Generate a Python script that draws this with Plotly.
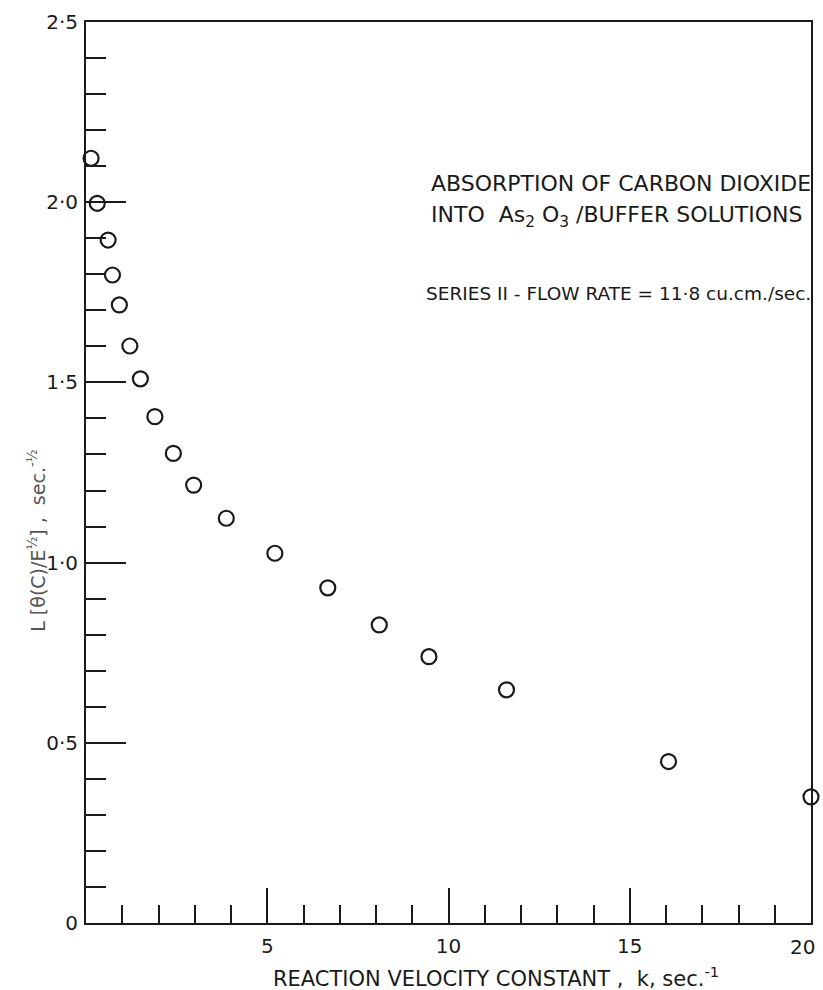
import plotly.graph_objects as go

# Data
k_values = [0.14, 0.31, 0.61, 0.73, 0.92, 1.21, 1.50, 1.90, 2.41, 2.97,
            3.87, 5.21, 6.67, 8.09, 9.46, 11.60, 16.07, 20.0]
l_values = [2.122, 1.997, 1.895, 1.798, 1.715, 1.601, 1.510, 1.405, 1.303, 1.215,
            1.123, 1.026, 0.930, 0.827, 0.739, 0.647, 0.448, 0.350]

x_tickvals = [5, 10, 15]
x_ticktext = ["5", "10", "15"]
x_last_label = "20"
y_tickvals = [0, 0.5, 1.0, 1.5, 2.0, 2.5]
y_ticktext = ["0", "0·5", "1·0", "1·5", "2·0", "2·5"]

title_lines = ["ABSORPTION OF CARBON DIOXIDE",
               "INTO  As<sub>2</sub> O<sub>3</sub> /BUFFER SOLUTIONS"]
series_text = "SERIES II - FLOW RATE = 11·8 cu.cm./sec."
x_title = "REACTION VELOCITY CONSTANT ,  k, sec.<sup>-1</sup>"
y_title = "L [θ(C)/E<sup>½</sup>] ,  sec.<sup>-½</sup>"

FONT = "DejaVu Sans"
INK = "#1a1a1a"

fig = go.Figure()
fig.add_trace(go.Scatter(
    x=k_values, y=l_values, mode="markers",
    marker=dict(symbol="circle-open", size=15, color=INK, line=dict(width=2.2, color=INK)),
    cliponaxis=False, showlegend=False,
))

fig.update_layout(
    width=823, height=990,
    margin=dict(l=86, r=10, t=22, b=67),
    paper_bgcolor="white", plot_bgcolor="white",
    font=dict(family=FONT, color=INK),
    xaxis=dict(
        range=[0, 20], showgrid=False, zeroline=False,
        showline=True, linecolor=INK, linewidth=2, mirror=True,
        tickmode="array", tickvals=x_tickvals, ticktext=x_ticktext,
        ticks="inside", ticklen=35, tickwidth=2, tickcolor=INK,
        minor=dict(dtick=1, tick0=0, ticks="inside", ticklen=18, tickwidth=2, tickcolor=INK),
        tickfont=dict(size=20, family=FONT, color=INK),
        ticklabelstandoff=4,
    ),
    yaxis=dict(
        range=[0, 2.5], showgrid=False, zeroline=False,
        showline=True, linecolor=INK, linewidth=2, mirror=True,
        tickmode="array", tickvals=y_tickvals, ticktext=y_ticktext,
        ticks="inside", ticklen=40, tickwidth=2, tickcolor=INK,
        minor=dict(dtick=0.1, tick0=0, ticks="inside", ticklen=20, tickwidth=2, tickcolor=INK),
        tickfont=dict(size=20, family=FONT, color=INK),
        ticklabelstandoff=2,
    ),
)

annotations = [
    dict(x=9.46, y=2.053, xref="x", yref="y", text=title_lines[0],
         xanchor="left", yanchor="middle", showarrow=False,
         font=dict(size=22, family=FONT, color=INK)),
    dict(x=9.46, y=1.959, xref="x", yref="y", text=title_lines[1],
         xanchor="left", yanchor="middle", showarrow=False,
         font=dict(size=22, family=FONT, color=INK)),
    dict(x=9.32, y=1.748, xref="x", yref="y", text=series_text,
         xanchor="left", yanchor="middle", showarrow=False,
         font=dict(size=18.5, family=FONT, color=INK)),
    dict(x=20, y=0, xref="x", yref="y", text=x_last_label,
         xanchor="right", yanchor="top", yshift=-10, xshift=6, showarrow=False,
         font=dict(size=20, family=FONT, color=INK)),
    dict(x=0.565, y=-0.0595, xref="paper", yref="paper", text=x_title,
         xanchor="center", yanchor="middle", showarrow=False,
         font=dict(size=21, family=FONT, color=INK)),
    dict(x=-0.068, y=0.425, xref="paper", yref="paper", text=y_title,
         textangle=-90, xanchor="center", yanchor="middle", showarrow=False,
         font=dict(size=19, family=FONT, color="#555555")),
]
fig.update_layout(annotations=annotations)

fig.write_html("out.html")
